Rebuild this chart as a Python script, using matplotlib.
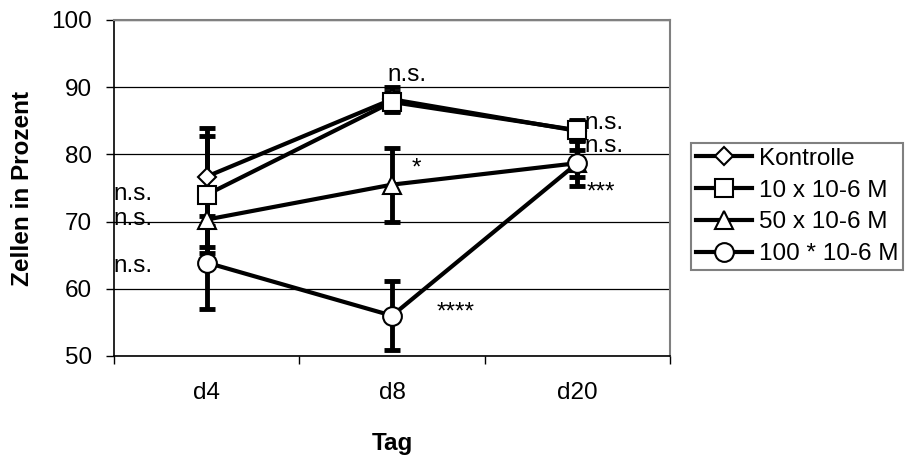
import matplotlib
matplotlib.use('Agg')
import matplotlib.pyplot as plt

plt.rcParams['font.family'] = ['Liberation Sans', 'DejaVu Sans']

days = ['d4', 'd8', 'd20']
series_names = ['Kontrolle', '10 x 10-6 M', '50 x 10-6 M', '100 * 10-6 M']

kontrolle = [76.7, 88.2, 83.5]
kontrolle_err = [7.3, 1.8, 1.5]
m10 = [74.0, 87.8, 83.6]
m10_err = [8.7, 1.5, 1.5]
m50 = [70.3, 75.5, 78.7]
m50_err = [4.1, 5.5, 2.0]
m100 = [63.9, 56.0, 78.7]
m100_err = [6.9, 5.1, 3.4]

sig_m10 = ['n.s.', 'n.s.', 'n.s.']
sig_m50 = ['n.s.', '*', 'n.s.']
sig_m100 = ['n.s.', '****', '***']

FS = 17.5

fig = plt.figure(figsize=(9.16, 4.59), dpi=100)
ax = fig.add_axes([114 / 916, 1 - 356 / 459, (670 - 114) / 916, (356 - 20) / 459])

x = list(range(len(days)))
values = [kontrolle, m10, m50, m100]
errors = [kontrolle_err, m10_err, m50_err, m100_err]
markers = ['D', 's', '^', 'o']
msizes = [9, 13, 13, 13.5]

# error bars under the markers
for v, e in zip(values, errors):
    ax.errorbar(x, v, yerr=e, fmt='none', ecolor='black', elinewidth=3.5,
                capsize=6, capthick=3.5, zorder=2)

handles = []
for v, name, m, s in zip(values, series_names, markers, msizes):
    h, = ax.plot(x, v, color='black', lw=3, marker=m, markersize=s,
                 markerfacecolor='white', markeredgecolor='black',
                 markeredgewidth=1.5, label=name, zorder=3)
    handles.append(h)

# significance labels, offsets in points from the data point
offsets = {
    0: [(-39, -4, 'right'), (-39, -4, 'right'), (-39, -7, 'right')],
    1: [(11, 15, 'center'), (14, 7.4, 'left'), (32, -1.7, 'left')],
    2: [(5, 1, 'left'), (5, 8, 'left'), (6.5, -25.6, 'left')],
}
for i in x:
    for k, (v, sig) in enumerate(zip([m10, m50, m100], [sig_m10, sig_m50, sig_m100])):
        dx, dy, ha = offsets[i][k]
        ax.annotate(sig[i], (i, v[i]), xytext=(dx, dy), textcoords='offset points',
                    ha=ha, va='baseline', fontsize=FS, zorder=4)

ax.set_xlim(-0.5, 2.5)
ax.set_ylim(50, 100)
ax.set_yticks(range(50, 101, 10))
ax.set_xticks(x)
ax.set_xticklabels(days)
ax.set_xticks([-0.5, 0.5, 1.5, 2.5], minor=True)
ax.tick_params(axis='x', which='major', length=0, pad=19, labelsize=FS)
ax.tick_params(axis='x', which='minor', length=6, width=1, direction='out')
ax.tick_params(axis='y', length=6, width=1, direction='out', pad=10, labelsize=FS)

ax.grid(axis='y', color='black', lw=0.9)
ax.set_axisbelow(True)

for side in ['top', 'right']:
    ax.spines[side].set_color('#808080')
    ax.spines[side].set_linewidth(1.5)
for side in ['left', 'bottom']:
    ax.spines[side].set_color('black')
    ax.spines[side].set_linewidth(1.2)

ax.set_xlabel('Tag', fontsize=FS, fontweight='bold', labelpad=20)
ax.set_ylabel('Zellen in Prozent', fontsize=FS, fontweight='bold', labelpad=12)

leg = fig.legend(handles=handles, loc='upper left', bbox_to_anchor=(691 / 916, 1 - 143 / 459),
                 fontsize=FS, frameon=True, fancybox=False, framealpha=1,
                 edgecolor='#808080', borderaxespad=0, borderpad=0.2,
                 labelspacing=0.4, handlelength=2.3, handletextpad=0.3)
leg.get_frame().set_linewidth(1.5)

fig.savefig('out.png', dpi=100)
